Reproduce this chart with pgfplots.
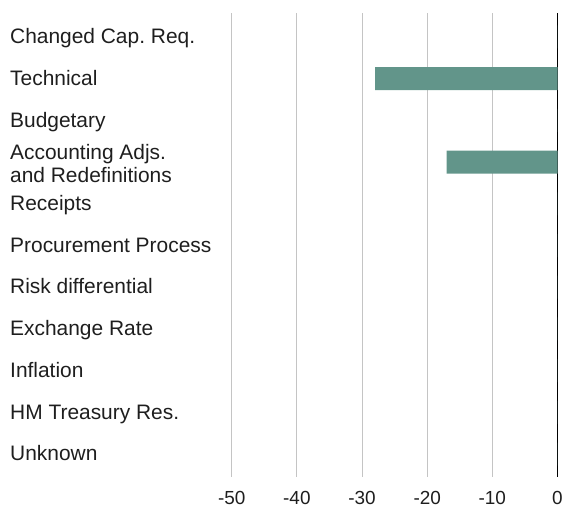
\documentclass[border=0pt]{standalone}
\usepackage{fontspec}
\setmainfont{Liberation Sans}
\usepackage{pgfplots}
\pgfplotsset{compat=1.18}
\definecolor{barcol}{RGB}{98,149,138}
\definecolor{gridcol}{RGB}{196,196,196}
\definecolor{txt}{RGB}{30,30,30}
\frenchspacing
\begin{document}
\begin{tikzpicture}
\useasboundingbox (0,-30bp) rectangle (563bp,477bp);
\begin{axis}[
  at={(0,0)}, anchor=south west,
  scale only axis,
  width=557.5bp, height=464bp,
  xmin=-85.56, xmax=0,
  ymin=-0.575, ymax=10.55,
  y dir=reverse,
  axis line style={draw=none},
  major tick length=0pt,
  xtick={-50,-40,-30,-20,-10},
  xticklabels={-50,-40,-30,-20,-10},
  extra x ticks={0},
  extra x tick labels={0},
  extra x tick style={grid style={black, line width=1.2bp}},
  xmajorgrids,
  grid style={gridcol, line width=1bp},
  xticklabel style={font=\fontsize{19}{22}\selectfont, text=txt, anchor=north, inner sep=0pt, yshift=-14bp},
  ytick={0,...,10},
  yticklabels={Changed Cap. Req.,Technical,Budgetary,{\raisebox{9bp}{\begin{tabular}[t]{@{}l@{}}Accounting Adjs.\\and Redefinitions\end{tabular}}},Receipts,Procurement Process,Risk differential,Exchange Rate,Inflation,HM Treasury Res.,Unknown},
  yticklabel style={font=\fontsize{21}{23}\selectfont, text=txt, anchor=base west, inner sep=0pt, xshift=10bp, yshift=-6.7bp},
  xbar, bar width=23bp,
  clip=false,
]
\addplot[fill=barcol, draw=none] coordinates {
(0,0) (-28,1) (0,2) (-17,3) (0,4) (0,5) (0,6) (0,7) (0,8) (0,9) (0,10)};
\end{axis}
\end{tikzpicture}
\end{document}
